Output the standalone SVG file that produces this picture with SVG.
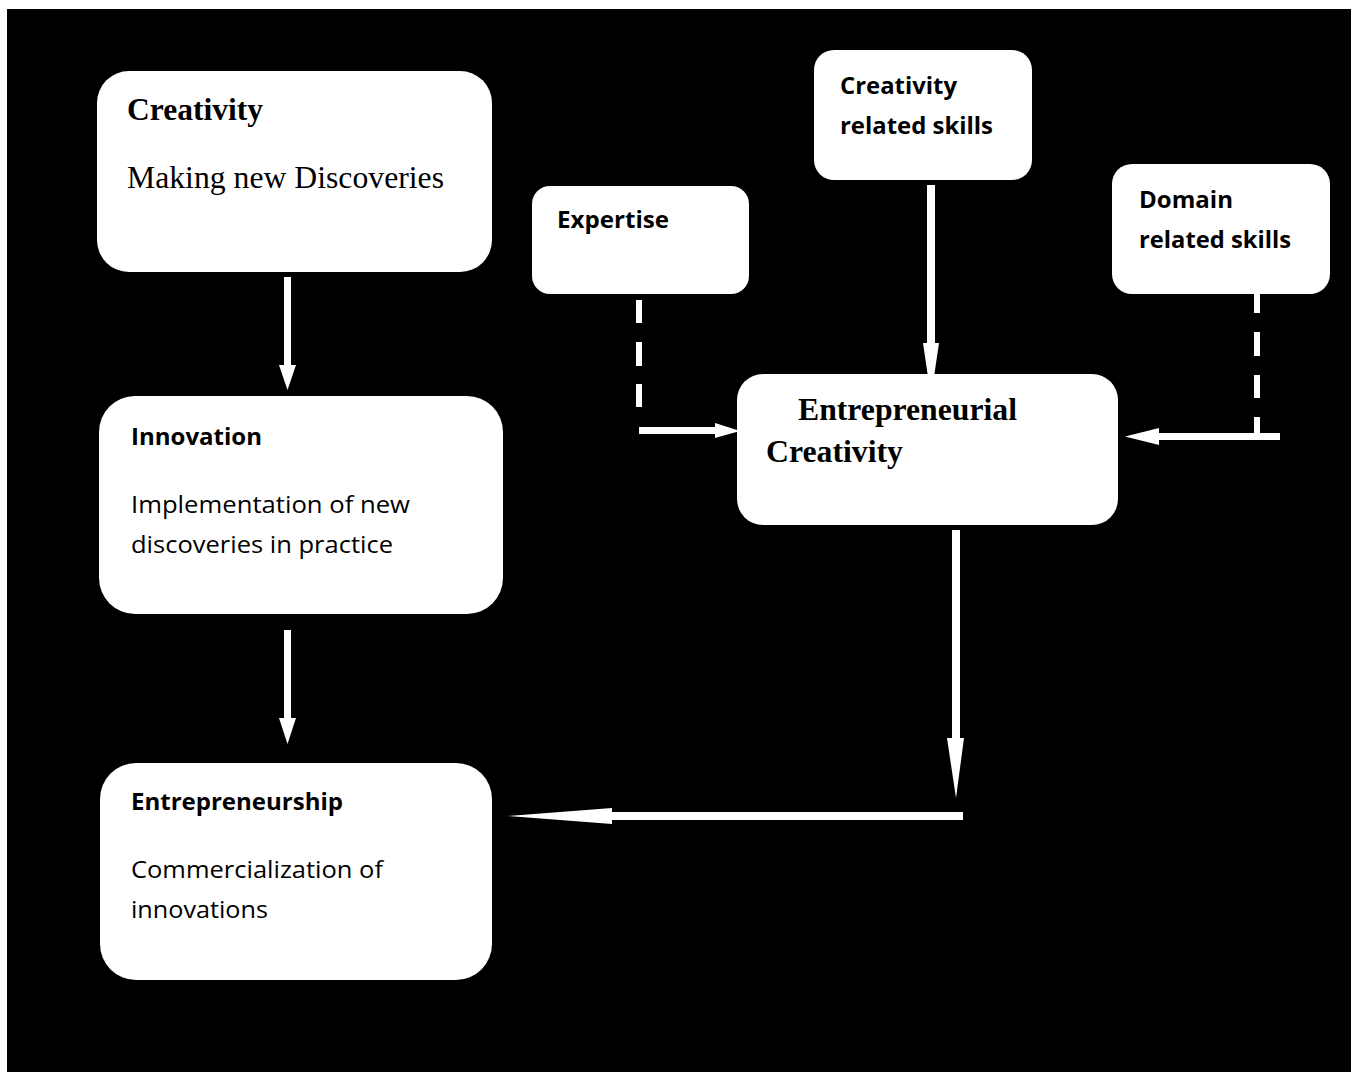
<svg xmlns="http://www.w3.org/2000/svg" width="1356" height="1072" viewBox="0 0 1356 1072">
  <style>
    .box { fill: #ffffff; }
    .serif-b { font-family: "Liberation Serif", "Times New Roman", serif; font-weight: bold; font-size: 31px; fill: #000; }
    .serif { font-family: "Liberation Serif", "Times New Roman", serif; font-size: 31px; fill: #000; }
    .sans-b { font-family: "Open Sans", "Noto Sans", sans-serif; font-weight: bold; font-size: 24px; fill: #000; }
    .sans { font-family: "Open Sans", "Noto Sans", sans-serif; font-size: 23px; fill: #000; }
    .wire { fill: #ffffff; }
  </style>

  <!-- page and dark canvas -->
  <rect x="0" y="0" width="1356" height="1072" fill="#ffffff"/>
  <rect x="7" y="9" width="1344" height="1063" fill="#000000"/>

  <!-- connectors -->
  <g id="connectors" class="wire">
    <!-- Creativity -> Innovation -->
    <rect x="284" y="277" width="7" height="89"/>
    <polygon points="279,365 296,365 287.5,390"/>
    <!-- Innovation -> Entrepreneurship -->
    <rect x="284" y="630" width="7" height="89"/>
    <polygon points="279,718 296,718 287.5,744"/>
    <!-- Creativity related skills -> Entrepreneurial Creativity -->
    <rect x="927" y="185" width="8" height="159"/>
    <polygon points="923,343 939,343 931,397"/>
    <!-- Expertise (dashed) -> Entrepreneurial Creativity -->
    <rect x="636" y="300" width="6" height="23"/>
    <rect x="636" y="342" width="6" height="24"/>
    <rect x="636" y="384" width="6" height="23"/>
    <rect x="639" y="427" width="77" height="7"/>
    <polygon points="715,423 715,438 740,431"/>
    <!-- Domain related skills (dashed) -> Entrepreneurial Creativity -->
    <rect x="1254" y="293" width="6" height="20"/>
    <rect x="1254" y="332" width="6" height="24"/>
    <rect x="1254" y="375" width="6" height="23"/>
    <rect x="1254" y="417" width="6" height="20"/>
    <rect x="1158" y="433" width="122" height="7"/>
    <polygon points="1159,428 1159,445 1125,436.5"/>
    <!-- Entrepreneurial Creativity -> Entrepreneurship -->
    <rect x="952" y="530" width="8" height="209"/>
    <polygon points="947,738 964,738 956,798"/>
    <rect x="611" y="812" width="352" height="8"/>
    <polygon points="612,808 612,824 508,816"/>
  </g>

  <!-- nodes -->
  <g id="node-creativity">
    <rect class="box" x="97" y="71" width="395" height="201" rx="32" ry="32"/>
    <text class="serif-b" x="127" y="120" textLength="136" lengthAdjust="spacingAndGlyphs">Creativity</text>
    <text class="serif" x="127" y="188" textLength="317" lengthAdjust="spacingAndGlyphs">Making new Discoveries</text>
  </g>

  <g id="node-innovation">
    <rect class="box" x="99" y="396" width="404" height="218" rx="36" ry="36"/>
    <text class="sans-b" x="131" y="445" textLength="131" lengthAdjust="spacingAndGlyphs">Innovation</text>
    <text class="sans" x="131" y="513" textLength="279" lengthAdjust="spacingAndGlyphs">Implementation of new</text>
    <text class="sans" x="131" y="553" textLength="262" lengthAdjust="spacingAndGlyphs">discoveries in practice</text>
  </g>

  <g id="node-entrepreneurship">
    <rect class="box" x="100" y="763" width="392" height="217" rx="36" ry="36"/>
    <text class="sans-b" x="131" y="810" textLength="212" lengthAdjust="spacingAndGlyphs">Entrepreneurship</text>
    <text class="sans" x="131" y="878" textLength="252" lengthAdjust="spacingAndGlyphs">Commercialization of</text>
    <text class="sans" x="131" y="918" textLength="137" lengthAdjust="spacingAndGlyphs">innovations</text>
  </g>

  <g id="node-entrepreneurial-creativity">
    <rect class="box" x="737" y="374" width="381" height="151" rx="26" ry="26"/>
    <text class="serif-b" x="798" y="420" textLength="219" lengthAdjust="spacingAndGlyphs">Entrepreneurial</text>
    <text class="serif-b" x="766" y="462" textLength="137" lengthAdjust="spacingAndGlyphs">Creativity</text>
  </g>

  <g id="node-expertise">
    <rect class="box" x="532" y="186" width="217" height="108" rx="18" ry="18"/>
    <text class="sans-b" x="557" y="228" textLength="112" lengthAdjust="spacingAndGlyphs">Expertise</text>
  </g>

  <g id="node-creativity-skills">
    <rect class="box" x="814" y="50" width="218" height="130" rx="20" ry="20"/>
    <text class="sans-b" x="840" y="94" textLength="117" lengthAdjust="spacingAndGlyphs">Creativity</text>
    <text class="sans-b" x="840" y="134" textLength="153" lengthAdjust="spacingAndGlyphs">related skills</text>
  </g>

  <g id="node-domain-skills">
    <rect class="box" x="1112" y="164" width="218" height="130" rx="20" ry="20"/>
    <text class="sans-b" x="1139" y="208" textLength="94" lengthAdjust="spacingAndGlyphs">Domain</text>
    <text class="sans-b" x="1139" y="248" textLength="152" lengthAdjust="spacingAndGlyphs">related skills</text>
  </g>
</svg>
